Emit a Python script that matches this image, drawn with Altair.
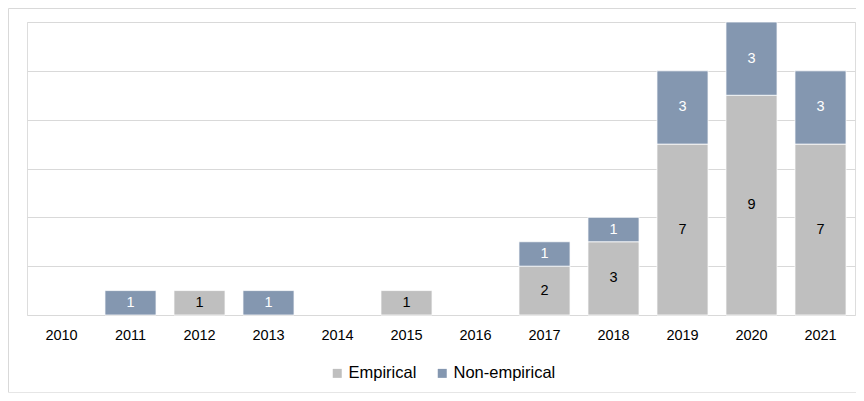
import altair as alt
import pandas as pd

years = ["2010", "2011", "2012", "2013", "2014", "2015", "2016", "2017", "2018", "2019", "2020", "2021"]
empirical = [0, 0, 1, 0, 0, 1, 0, 2, 3, 7, 9, 7]
non_empirical = [0, 1, 0, 1, 0, 0, 0, 1, 1, 3, 3, 3]
series = ["Empirical", "Non-empirical"]
colors = ["#BFBFBF", "#8497B0"]
label_colors = ["#000000", "#FFFFFF"]

rows = []
for i, yr in enumerate(years):
    base = 0
    for name, vals in ((series[0], empirical), (series[1], non_empirical)):
        v = vals[i]
        if v > 0:
            rows.append({"year": yr, "type": name, "value": v,
                         "start": base, "end": base + v, "mid": base + v / 2})
        base += v
df = pd.DataFrame(rows)

FONT = "Liberation Sans"

xscale = alt.Scale(domain=years, paddingInner=0.26, paddingOuter=0.13)
yscale = alt.Scale(domain=[0, 12], nice=False)

x_enc = alt.X("year:N", scale=xscale, sort=years, title=None,
              axis=alt.Axis(labelAngle=0, ticks=False, tickSize=0, domain=False,
                            labelPadding=13, labelFont=FONT, labelFontSize=14.5,
                            labelColor="#000000", grid=False))

bars = alt.Chart(df).mark_bar(stroke="#FFFFFF", strokeWidth=0.75).encode(
    x=x_enc,
    y=alt.Y("start:Q", scale=yscale, title=None,
            axis=alt.Axis(values=[0, 2, 4, 6, 8, 10, 12], labels=False, ticks=False,
                          domain=False, grid=True, gridColor="#D9D9D9", gridWidth=1)),
    y2="end:Q",
    color=alt.Color("type:N", scale=alt.Scale(domain=series, range=colors),
                    legend=alt.Legend(title=None, orient="none", direction="horizontal",
                                      legendX=302, legendY=343, symbolType="square",
                                      symbolSize=81, symbolStrokeWidth=0,
                                      labelFont=FONT, labelFontSize=16.5,
                                      labelColor="#000000", labelOffset=3,
                                      columnPadding=17)),
)

texts = alt.Chart(df).mark_text(font=FONT, fontSize=14.5, baseline="middle", align="center").encode(
    x=alt.X("year:N", scale=xscale, sort=years),
    y=alt.Y("mid:Q", scale=yscale),
    text=alt.Text("value:Q"),
    color=alt.Color("type:N", scale=alt.Scale(domain=series, range=label_colors), legend=None),
)

dummy = pd.DataFrame({"k": [0]})
frame_left = alt.Chart(dummy).mark_rule(color="#D9D9D9", strokeWidth=1).encode(
    x=alt.value(-18.5), y=alt.value(-13.5), y2=alt.value(370.5)
)
frame_top = alt.Chart(dummy).mark_rule(color="#D9D9D9", strokeWidth=1).encode(
    x=alt.value(-18.5), x2=alt.value(829), y=alt.value(-13.5)
)
frame_bottom = alt.Chart(dummy).mark_rule(color="#E6E6E6", strokeWidth=1).encode(
    x=alt.value(-18.5), x2=alt.value(829), y=alt.value(370.5)
)

chart = alt.layer(frame_left, frame_top, frame_bottom, bars, texts).resolve_scale(color="independent").properties(
    width=828, height=293,
    autosize=alt.AutoSizeParams(type="none"),
    padding={"left": 19, "top": 14, "right": 1, "bottom": 78},
).configure_view(stroke=None).configure(background="#FFFFFF")

chart.save("out.html", embed_options={"renderer": "svg", "actions": False})
